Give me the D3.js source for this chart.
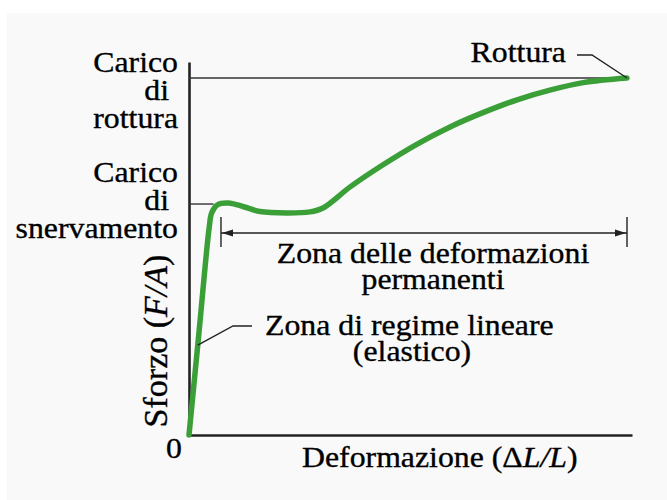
<!DOCTYPE html>
<html>
<head>
<meta charset="utf-8">
<script src="https://cdn.jsdelivr.net/npm/d3@7"></script>
<style>
  html, body { margin: 0; padding: 0; background: #ffffff; }
  svg text { font-family: "Liberation Serif", "Times New Roman", serif; fill: #000; stroke: #000; stroke-width: 0.35px; }
</style>
</head>
<body>
<svg id="chart" width="667" height="500"></svg>
<script>
// Stress–strain curve of a ductile metal (normalised units, rupture = 100)
const strain = [0, 2.3, 4.6, 5.2, 6.5, 9.0, 12.3, 16.2, 22.4, 27.6, 30.6, 36.8, 44.3, 52.1, 59.6, 67.1, 74.9, 82.4, 90.0, 100];
const stress = [0, 29, 58, 62.3, 64.5, 65.0, 64.0, 62.6, 62.2, 62.5, 63.6, 69.5, 75.7, 81.5, 86.3, 90.3, 93.9, 96.6, 98.7, 100];

const yieldStress = 64.7;     // carico di snervamento
const breakStress = 100;      // carico di rottura
const breakStrain = 100;      // rottura
const plasticStart = 7.3;     // inizio zona delle deformazioni permanenti
const elasticMark = [2.0, 25.2];

const yLabelsBreak = ["Carico", "di", "rottura"];
const yLabelsYield = ["Carico", "di", "snervamento"];
const plasticLabel = ["Zona delle deformazioni", "permanenti"];
const elasticLabel = ["Zona di regime lineare", "(elastico)"];

const svg = d3.select("#chart");
const FS = 30, SX = 1.06;

// light panel behind the drawing
svg.append("rect").attr("x", 7).attr("y", 13).attr("width", 660).attr("height", 487).attr("fill", "#f9f9f9");

const x = d3.scaleLinear().domain([0, 100]).range([189, 627]);
const y = d3.scaleLinear().domain([0, 100]).range([435, 78]);

// axes (plain lines, no ticks)
const axisX = d3.axisBottom(x.copy().domain([0, 101.1]).range([189, 632])).tickValues([]).tickSizeOuter(0);
const axisY = d3.axisLeft(y.copy().domain([0, 104.5]).range([435, 62])).tickValues([]).tickSizeOuter(0);
svg.append("g").attr("transform", `translate(0,${y(0)})`).call(axisX);
svg.append("g").attr("transform", `translate(${x(0)},0)`).call(axisY);
svg.selectAll(".domain").attr("stroke", "#222").attr("stroke-width", 2.6);

// reference lines for rupture and yield loads
svg.append("line").attr("x1", x(0)).attr("x2", x(breakStrain)).attr("y1", y(breakStress)).attr("y2", y(breakStress))
  .attr("stroke", "#333").attr("stroke-width", 1.4);
svg.append("line").attr("x1", x(0)).attr("x2", x(5.6)).attr("y1", y(yieldStress)).attr("y2", y(yieldStress))
  .attr("stroke", "#333").attr("stroke-width", 1.4);

// curve
const pts = strain.map((s, i) => [s, stress[i]]);
const line = d3.line().x(d => x(d[0])).y(d => y(d[1])).curve(d3.curveCatmullRom.alpha(0.5));
svg.append("path").attr("d", line(pts)).attr("fill", "none").attr("stroke", "#3b9f38")
  .attr("stroke-width", 5.5).attr("stroke-linejoin", "round").attr("stroke-linecap", "round");

// text with a slight horizontal stretch, anchored at (tx, ty)
function label(tx, ty, anchor, size) {
  return svg.append("text")
    .attr("transform", `translate(${tx},${ty}) scale(${SX},1)`)
    .attr("text-anchor", anchor).attr("font-size", size || FS);
}

// y-axis text labels
function stack(lines, yFirst, lead) {
  lines.forEach((t, i) => {
    label(t === "di" ? 169 : 178, yFirst + i * lead, "end").text(t);
  });
}
stack(yLabelsBreak, y(breakStress) - 6, 28);
stack(yLabelsYield, y(yieldStress) - 22, 28);

label(174, 458, "middle").text("0");

// axis titles
const xt = label(302, 467, "start");
xt.append("tspan").text("Deformazione (\u0394");
xt.append("tspan").attr("font-style", "italic").text("L/L");
xt.append("tspan").text(")");

const yt = svg.append("text").attr("transform", "translate(167,341) rotate(-90)")
  .attr("text-anchor", "middle").attr("font-size", 34);
yt.append("tspan").text("Sforzo (");
yt.append("tspan").attr("font-style", "italic").text("F/A");
yt.append("tspan").text(")");

// rupture annotation
label(566, 62, "end").text("Rottura");
svg.append("path").attr("d", `M577,55 L592,55 L${x(breakStrain)},${y(breakStress)}`)
  .attr("fill", "none").attr("stroke", "#222").attr("stroke-width", 1.4);

// plastic zone span arrow
const ay = y(yieldStress) + 29;
const xa = x(plasticStart), xb = x(breakStrain);
svg.append("line").attr("x1", xa).attr("x2", xb).attr("y1", ay).attr("y2", ay).attr("stroke", "#222").attr("stroke-width", 1.4);
[xa, xb].forEach((xx, i) => {
  svg.append("line").attr("x1", xx).attr("x2", xx).attr("y1", ay - 16).attr("y2", ay + 14).attr("stroke", "#222").attr("stroke-width", 1.4);
  const dir = i === 0 ? 1 : -1;
  svg.append("path").attr("d", `M${xx + dir * 1},${ay} L${xx + dir * 12},${ay - 3.5} L${xx + dir * 12},${ay + 3.5} Z`).attr("fill", "#222");
});
plasticLabel.forEach((t, i) => {
  label(433, ay + 30 + i * 26, "middle").text(t);
});

// elastic zone annotation
const ex = x(elasticMark[0]), ey = y(elasticMark[1]);
svg.append("path").attr("d", `M${ex},${ey} L233,326 L252,326`).attr("fill", "none").attr("stroke", "#222").attr("stroke-width", 1.4);
label(265, 335, "start").text(elasticLabel[0]);
label(412, 361, "middle").text(elasticLabel[1]);
</script>
</body>
</html>
